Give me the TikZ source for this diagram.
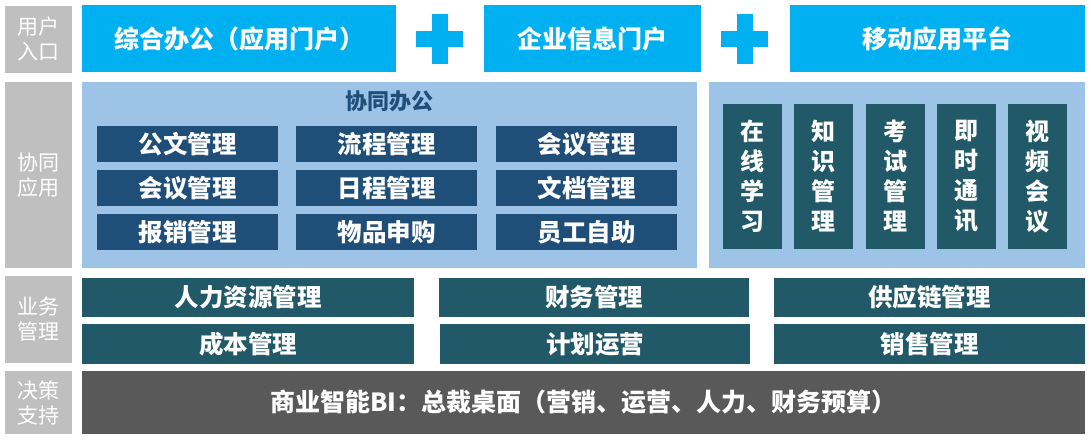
\documentclass[tikz,border=0pt]{standalone}
\usepackage{fontspec}
\setmainfont{Noto Sans CJK SC}
\definecolor{cyanblue}{HTML}{00B0F0}
\definecolor{lightblue}{HTML}{9DC3E6}
\definecolor{navy}{HTML}{1F4E79}
\definecolor{teal2}{HTML}{215968}
\definecolor{labgray}{HTML}{BFBFBF}
\definecolor{darkgray2}{HTML}{595959}
\tikzset{
  base/.style={inner sep=0pt, outer sep=0pt, align=center, text=white},
  sidelabel/.style={base, fill=labgray, minimum width=67pt, font=\fontsize{21}{25}\selectfont},
  portal/.style={base, fill=cyanblue, minimum height=67pt, font=\bfseries\fontsize{25}{28}\selectfont},
  panel/.style={base, fill=lightblue, minimum height=186pt},
  coop/.style={base, fill=navy, minimum width=181pt, minimum height=36pt, font=\bfseries\fontsize{24.5}{26}\selectfont},
  vbox/.style={base, fill=teal2, minimum width=59pt, minimum height=145pt, font=\bfseries\fontsize{24}{30}\selectfont},
  biz/.style={base, fill=teal2, font=\bfseries\fontsize{24.5}{26}\selectfont},
  bi/.style={base, fill=darkgray2, minimum width=1003pt, minimum height=63pt, font=\bfseries\fontsize{25}{28}\selectfont},
  plusbar/.style={fill=cyanblue}
}
\begin{document}
\begin{tikzpicture}[x=1pt,y=-1pt]
\path[use as bounding box] (0,0) rectangle (1091,442);
% side labels
\node[sidelabel, minimum height=67pt] (l1) at (38.5,39) {用户\\入口};
\node[sidelabel, minimum height=186pt] (l2) at (38.5,175) {协同\\应用};
\node[sidelabel, minimum height=87pt] (l3) at (38.5,319.5) {业务\\管理};
\node[sidelabel, minimum height=63pt] (l4) at (38.5,402.5) {决策\\支持};
% top row
\node[portal, minimum width=314pt] (p1) at (239,38.5) {综合办公（应用门户）};
\node[portal, minimum width=217pt] (p2) at (592.5,38.5) {企业信息门户};
\node[portal, minimum width=295pt] (p3) at (937.5,38.5) {移动应用平台};
% plus signs
\fill[plusbar] (431.5,14) rectangle (447.5,64);
\fill[plusbar] (416,31) rectangle (463,47);
\fill[plusbar] (736.5,14) rectangle (752.5,64);
\fill[plusbar] (721,31) rectangle (768,47);
% panels
\node[panel, minimum width=615pt] (coopPanel) at (389.5,175) {};
\node[panel, minimum width=376pt] (rightPanel) at (897,175) {};
\node[base, text=navy, font=\bfseries\fontsize{22}{24}\selectfont] (coopTitle) at (389,101) {协同办公};
% coop boxes
\node[coop] (c11) at (187.5,144) {公文管理};
\node[coop] (c12) at (386.5,144) {流程管理};
\node[coop] (c13) at (586.5,144) {会议管理};
\node[coop] (c21) at (187.5,188) {会议管理};
\node[coop] (c22) at (386.5,188) {日程管理};
\node[coop] (c23) at (586.5,188) {文档管理};
\node[coop] (c31) at (187.5,232) {报销管理};
\node[coop] (c32) at (386.5,232) {物品申购};
\node[coop] (c33) at (586.5,232) {员工自助};
% vertical boxes
\node[vbox] (v1) at (752.5,176.5) {在\\线\\学\\习};
\node[vbox] (v2) at (823.5,176.5) {知\\识\\管\\理};
\node[vbox] (v3) at (895.5,176.5) {考\\试\\管\\理};
\node[vbox] (v4) at (966.5,176.5) {即\\时\\通\\讯};
\node[vbox] (v5) at (1037.5,176.5) {视\\频\\会\\议};
% business
\node[biz, minimum width=332pt, minimum height=39pt] (b11) at (248,297.5) {人力资源管理};
\node[biz, minimum width=310pt, minimum height=39pt] (b12) at (594,297.5) {财务管理};
\node[biz, minimum width=311pt, minimum height=39pt] (b13) at (929.5,297.5) {供应链管理};
\node[biz, minimum width=332pt, minimum height=40pt] (b21) at (248,344) {成本管理};
\node[biz, minimum width=310pt, minimum height=40pt] (b22) at (595,344) {计划运营};
\node[biz, minimum width=311pt, minimum height=40pt] (b23) at (929.5,344) {销售管理};
% BI
\node[bi] (bi) at (583.5,402.5) {商业智能BI：总裁桌面（营销、运营、人力、财务预算）};
\end{tikzpicture}
\end{document}
